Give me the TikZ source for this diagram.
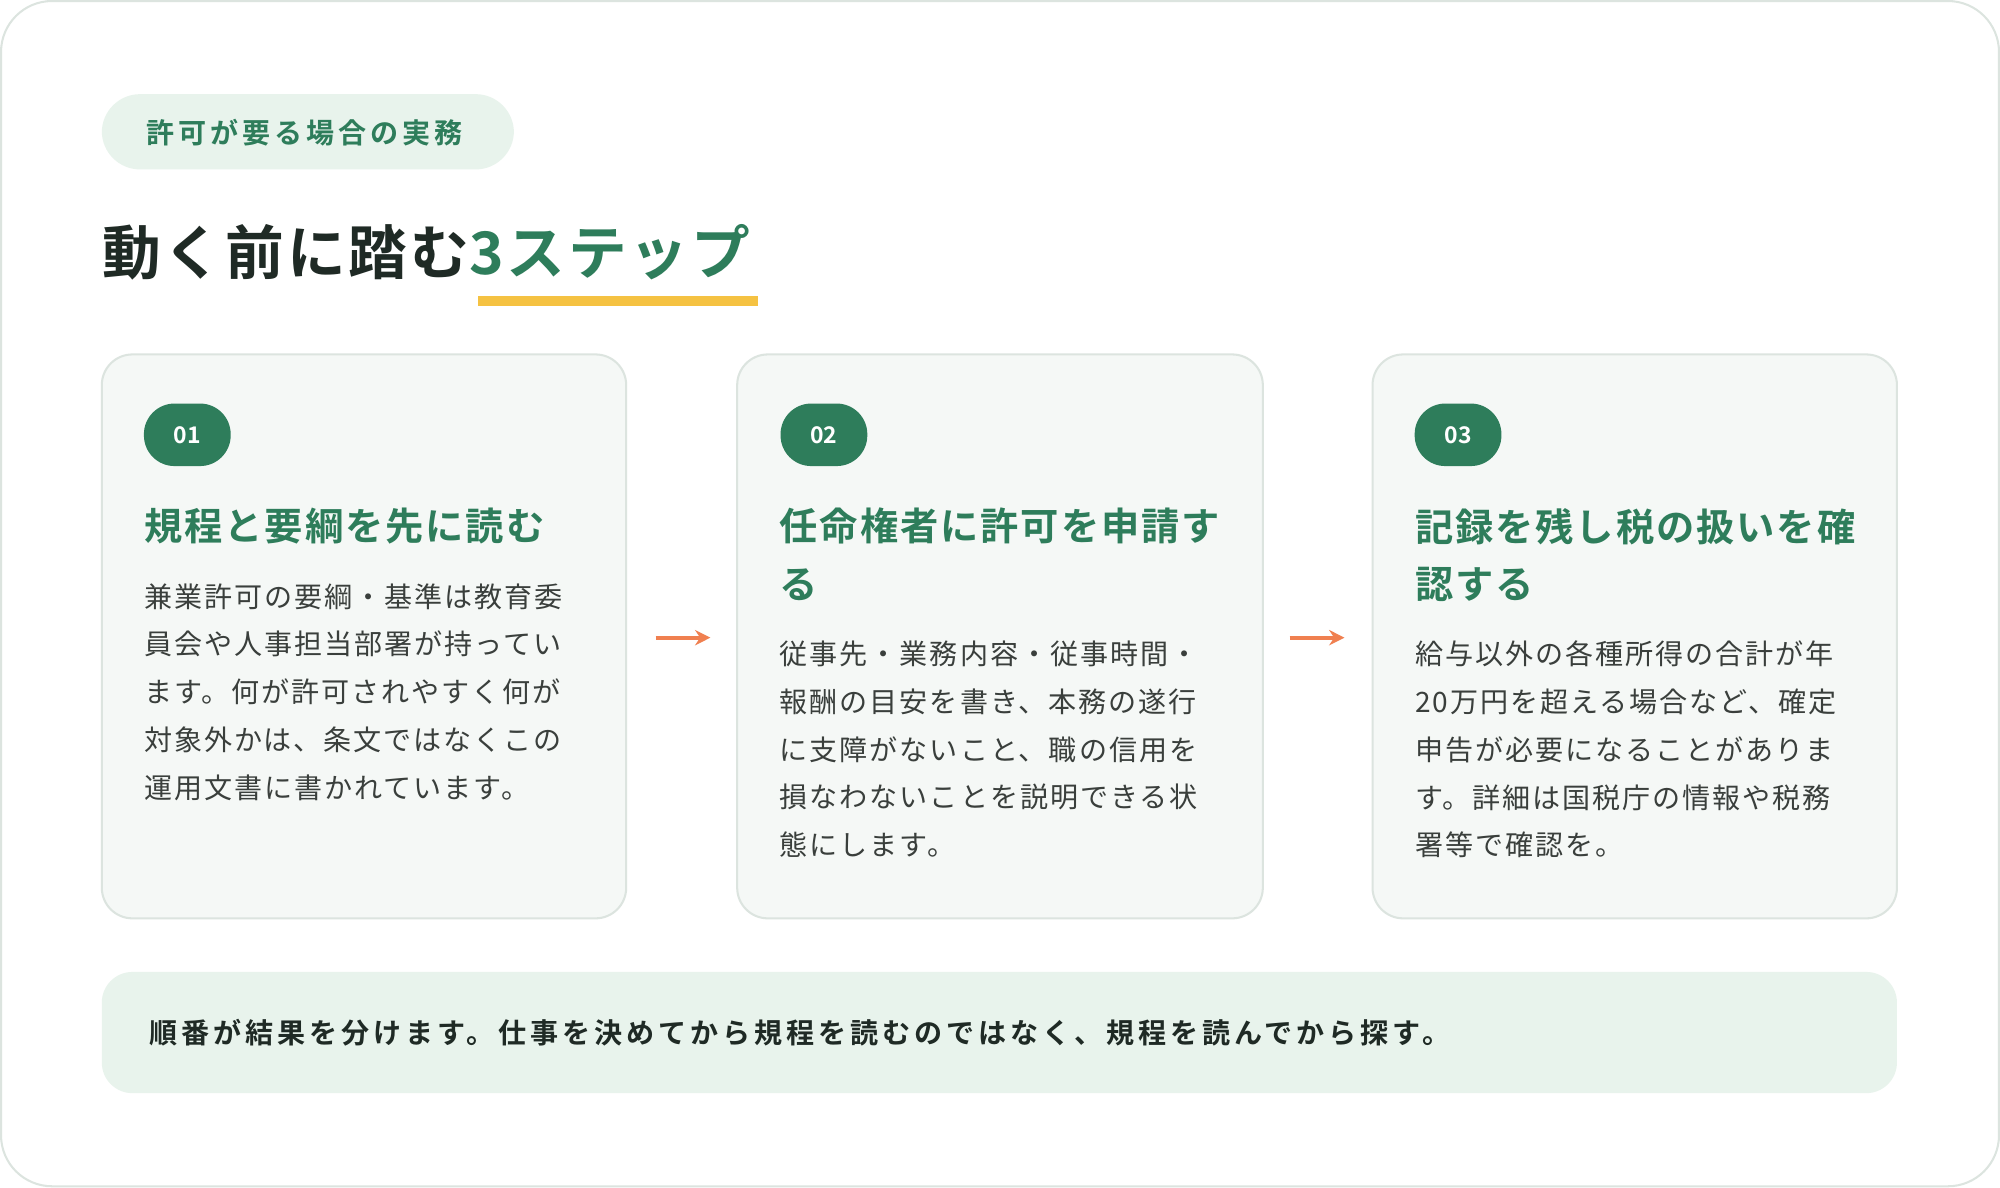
\documentclass[tikz,border=0pt]{standalone}
\usepackage{fontspec}
\setmainfont{Noto Sans CJK JP}
\newfontfamily\jpbold{Noto Sans CJK JP Bold}
\newfontfamily\jpboldwide[LetterSpace=14]{Noto Sans CJK JP Bold}
\newfontfamily\jpboldmid[LetterSpace=5]{Noto Sans CJK JP Bold}
\newfontfamily\jpbodywide[LetterSpace=7]{Noto Sans CJK JP}
\usetikzlibrary{positioning,arrows.meta}
\definecolor{leaf}{HTML}{2E7D5B}
\definecolor{mint}{HTML}{E8F3EC}
\definecolor{cardbg}{HTML}{F5F8F6}
\definecolor{cardline}{HTML}{DCE4DF}
\definecolor{ink}{HTML}{1F2A25}
\definecolor{body}{HTML}{3A3F3C}
\definecolor{mustard}{HTML}{F5C242}
\definecolor{coral}{HTML}{F08050}
\begin{document}
\begin{tikzpicture}[x=0.5pt,y=-0.5pt,
  card/.style={draw=cardline,line width=0.8pt,fill=cardbg,rounded corners=12pt},
  badge/.style={fill=leaf,text=white,rounded corners=12pt,minimum width=34pt,minimum height=24.5pt,inner sep=0pt,font=\jpbold\fontsize{9}{9}\selectfont},
  steptitle/.style={anchor=north west,inner sep=0pt,align=left,text=leaf,font=\jpboldmid\fontsize{15}{22.5}\selectfont},
  steptext/.style={anchor=north west,inner sep=0pt,align=left,text=body,font=\jpbodywide\fontsize{11}{18.75}\selectfont},
  nextstep/.style={-{Stealth[length=6pt,width=6pt]},coral,line width=1.6pt}]

% frame
\draw[cardline,line width=0.8pt,fill=white,rounded corners=20pt] (1,1) rectangle (1567,930);

% tag
\fill[mint,rounded corners=15pt] (80,74) rectangle (403,133);
\node[anchor=west,text=leaf,font=\jpboldwide\fontsize{11}{11}\selectfont] (tag) at (108,104) {許可が要る場合の実務};

% title
\node[anchor=base west,inner sep=0pt,text=ink,font=\jpboldmid\fontsize{23}{23}\selectfont] (title) at (80,215)
  {動く前に踏む\textcolor{leaf}{3ステップ}};
\fill[mustard] (375,232) rectangle (594,240);

% cards
\draw[card] (80,278) rectangle (491,720);
\draw[card] (578,278) rectangle (990,720);
\draw[card] (1076,278) rectangle (1487,720);

\node[badge] (b1) at (147,341) {01};
\node[badge] (b2) at (646,341) {02};
\node[badge] (b3) at (1143,341) {03};

\node[steptitle] (t1) at (113,398) {規程と要綱を先に読む};
\node[steptitle] (t2) at (611,398) {任命権者に許可を申請す\\る};
\node[steptitle] (t3) at (1109,398) {記録を残し税の扱いを確\\認する};

\node[steptext] (d1) at (113,457) {兼業許可の要綱・基準は教育委\\員会や人事担当部署が持ってい\\ます。何が許可されやすく何が\\対象外かは、条文ではなくこの\\運用文書に書かれています。};
\node[steptext] (d2) at (611,502) {従事先・業務内容・従事時間・\\報酬の目安を書き、本務の遂行\\に支障がないこと、職の信用を\\損なわないことを説明できる状\\態にします。};
\node[steptext] (d3) at (1109,502) {給与以外の各種所得の合計が年\\20万円を超える場合など、確定\\申告が必要になることがありま\\す。詳細は国税庁の情報や税務\\署等で確認を。};

% arrows
\coordinate (a1) at (514,500); \coordinate (a2) at (557,500);
\coordinate (a3) at (1011,500); \coordinate (a4) at (1054,500);
\draw[nextstep] (a1) -- (a2);
\draw[nextstep] (a3) -- (a4);

% note
\fill[mint,rounded corners=12pt] (80,762) rectangle (1487,857);
\node[anchor=west,text=ink,font=\jpboldwide\fontsize{11}{11}\selectfont] (note) at (110,810)
  {順番が結果を分けます。仕事を決めてから規程を読むのではなく、規程を読んでから探す。};
\end{tikzpicture}
\end{document}
